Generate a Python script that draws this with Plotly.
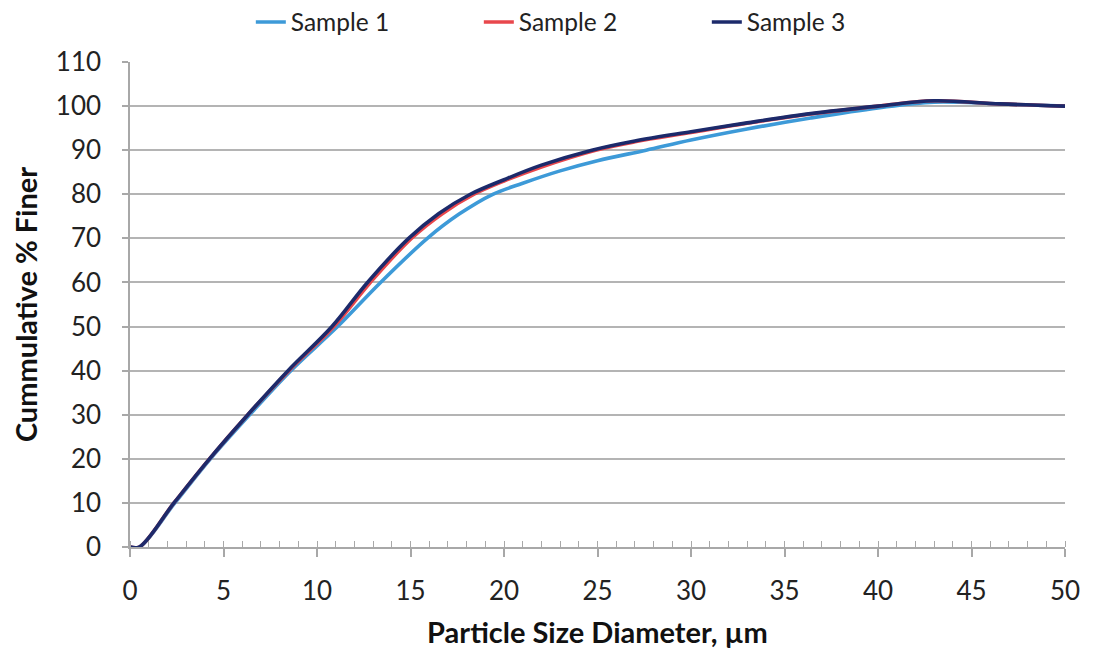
import plotly.graph_objects as go

# Sample 3 (dark navy)
x_s3 = [0, 0.5, 2.35, 4.25, 6.3, 8.45, 10.8, 12.7, 14.9, 16.5, 18.2, 20, 22, 24.7, 27, 30, 33, 36.4, 40, 43, 46.5, 50]
y_s3 = [0, 0, 10, 20, 30, 40, 50, 60, 70, 75.6, 80, 83.3, 86.6, 90, 92.1, 94.2, 96.2, 98.3, 100, 101.2, 100.5, 100]

# Sample 2 (red) - almost hidden under sample 3
x_s2 = [0, 0.5, 2.35, 4.25, 6.3, 8.5, 10.9, 12.85, 15.05, 16.7, 18.4, 20, 22, 24.9, 27, 30, 33, 36.4, 40, 43, 46.5, 50]
y_s2 = [0, 0, 10, 20, 30, 40, 50, 60, 70, 75.6, 80, 83.0, 86.2, 90, 91.9, 94.0, 96.1, 98.2, 100, 101.2, 100.5, 100]

# Sample 1 (light blue)
x_s1 = [0, 0.5, 2.4, 4.3, 6.4, 8.6, 11.1, 13.4, 15.9, 17.6, 19.4, 21, 23, 25, 27.6, 30, 33, 36.4, 40, 43, 46.5, 50]
y_s1 = [0, 0, 10, 20, 30, 40, 50, 60, 70, 75.5, 80, 82.5, 85.3, 87.6, 90, 92.3, 94.8, 97.3, 99.6, 100.9, 100.5, 100]

x_ticks = [0, 5, 10, 15, 20, 25, 30, 35, 40, 45, 50]
y_ticks = [0, 10, 20, 30, 40, 50, 60, 70, 80, 90, 100, 110]

FONT = "Lato"
GRID = "#b4b4b4"
AXIS = "#a8a8a8"

fig = go.Figure()
fig.add_trace(go.Scatter(x=x_s1, y=y_s1, mode="lines", name="Sample 1",
                         line=dict(color="#3d9ad8", width=3.6, shape="spline", smoothing=1.0)))
fig.add_trace(go.Scatter(x=x_s2, y=y_s2, mode="lines", name="Sample 2",
                         line=dict(color="#e8474c", width=3.6, shape="spline", smoothing=1.0)))
fig.add_trace(go.Scatter(x=x_s3, y=y_s3, mode="lines", name="Sample 3",
                         line=dict(color="#1c2a6b", width=3.6, shape="spline", smoothing=1.0)))

fig.update_layout(
    width=1080, height=645,
    margin=dict(l=122, r=23, t=54, b=106, autoexpand=False),
    paper_bgcolor="white", plot_bgcolor="white",
    font=dict(family=FONT, size=24, color="#222222"),
    showlegend=True,
    legend=dict(orientation="h", x=0.495, xanchor="center", y=1.0 + 40 / 485, yanchor="middle",
                font=dict(family=FONT, size=24.5, color="#222222"),
                entrywidth=183, itemwidth=30),
    xaxis=dict(range=[0, 50], tickvals=x_ticks, ticktext=[str(v) for v in x_ticks],
               showgrid=False, zeroline=False,
               showline=True, linecolor=AXIS, linewidth=1.5,
               ticks="outside", ticklen=8, tickcolor=AXIS, tickwidth=1.5,
               minor=dict(dtick=1, ticks="inside", ticklen=6, tickcolor=AXIS, tickwidth=1.2, showgrid=False),
               tickfont=dict(family=FONT, size=26, color="#222222"),
               ticklabelstandoff=12,
               title=dict(text="<b>Particle Size Diameter, µm</b>", standoff=18,
                          font=dict(family=FONT, size=29, color="#111111"))),
    yaxis=dict(range=[0, 110], tickvals=y_ticks, ticktext=[str(v) for v in y_ticks],
               showgrid=True, gridcolor=GRID, gridwidth=1.5, zeroline=False,
               showline=True, linecolor=AXIS, linewidth=1.5,
               ticks="outside", ticklen=6, tickcolor=AXIS, tickwidth=1.5,
               tickfont=dict(family=FONT, size=26, color="#222222"),
               ticklabelstandoff=16,
               title=dict(text="<b>Cummulative % Finer</b>", standoff=14,
                          font=dict(family=FONT, size=29, color="#111111"))),
)

fig.write_html("out.html")
